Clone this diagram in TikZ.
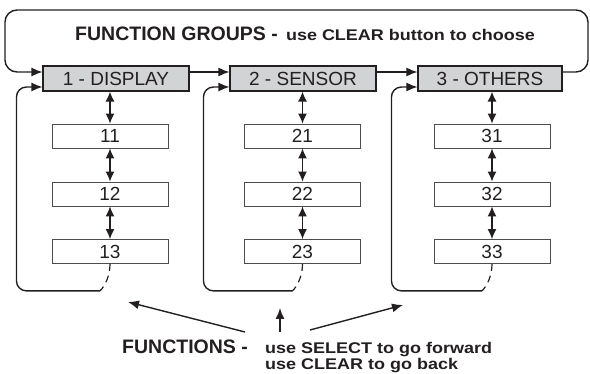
\documentclass[tikz,border=0pt]{standalone}
\usepackage{fontspec}
\setmainfont{Liberation Sans}
\usetikzlibrary{arrows.meta,calc}
\definecolor{ink}{RGB}{35,31,32}
\definecolor{boxgray}{RGB}{210,211,212}
\tikzset{
  grp/.style={draw=ink, line width=1.1pt, fill=boxgray, minimum width=146pt, minimum height=25pt, inner sep=0pt, text=ink, font=\fontsize{19}{19}\selectfont},
  fbox/.style={draw=ink!80, line width=0.8pt, minimum width=116pt, minimum height=24pt, inner sep=0pt, text=ink, font=\fontsize{19}{19}\selectfont},
  conn/.style={line width=1.4pt, draw=ink},
  tipend/.style={-{Latex[length=11pt,width=9pt]}},
  dbl/.style={{Latex[length=10pt,width=9pt]}-{Latex[length=10pt,width=9pt]}},
  dsh/.style={line width=1.2pt, draw=ink, dash pattern=on 7pt off 5pt},
  bigtxt/.style={anchor=base west, inner sep=0pt, text=ink, font=\bfseries\fontsize{19.5}{19.5}\selectfont},
  smalltxt/.style={inner sep=0pt, text=ink, xscale=1.16, font=\bfseries\fontsize{15.5}{15.5}\selectfont}
}
\begin{document}
\begin{tikzpicture}[x=1pt,y=-1pt]
\useasboundingbox (0,0) rectangle (590,374);

% group boxes
\node[grp] (g1) at (116,78.5) {1 - DISPLAY};
\node[grp] (g2) at (303,78.5) {2 - SENSOR};
\node[grp, minimum width=144pt] (g3) at (490,78.5) {3 - OTHERS};

% function boxes
\foreach \c/\x in {1/110,2/302.5,3/492}{
  \node[fbox] (f\c1) at (\x,136) {\c1};
  \node[fbox] (f\c2) at (\x,194) {\c2};
  \node[fbox] (f\c3) at (\x,251.5) {\c3};
}

% title
\node[bigtxt] (tg) at (75,41) {FUNCTION GROUPS -};
\node[smalltxt, anchor=base east] (tu) at (535,41) {use CLEAR button to choose};

% top loop
\coordinate (tr) at (588,10);
\coordinate (tl) at (5,10);
\draw[conn,tipend,rounded corners=12pt] ([yshift=6.5pt]g3.east) -| (tr) -- (tl) |- ([yshift=6.5pt]g1.west);
\draw[conn,tipend] ([yshift=6.5pt]g1.east) -- ([yshift=6.5pt]g2.west);
\draw[conn,tipend] ([yshift=6.5pt]g2.east) -- ([yshift=6.5pt]g3.west);

% vertical double arrows and side loops
\foreach \c in {1,2,3}{
  \draw[conn,dbl] (f\c1.north |- g\c.south) -- (f\c1.north);
  \draw[conn,dbl] (f\c1.south) -- (f\c2.north);
  \draw[conn,dbl] (f\c2.south) -- (f\c3.north);
  \coordinate (b\c) at ($(f\c3.south)+(-10,27)$);
  \coordinate (l\c) at ($(g\c.west)+(-26,8.5)$);
  \draw[dsh] (f\c3.south) .. controls +(0,12) and +(5,-5) .. (b\c);
  \draw[conn,tipend,rounded corners=10pt] (b\c) -| (l\c) -- ([yshift=-8.5pt]g\c.west);
}

% bottom text
\node[bigtxt] (fn) at (122,354) {FUNCTIONS -};
\node[smalltxt, anchor=base west] (fu1) at (265,354) {use SELECT to go forward};
\node[smalltxt, anchor=base west] (fu2) at (265,369.5) {use CLEAR to go back};

% pointer arrows
\coordinate (a1s) at (245,332); \coordinate (a1e) at (128,302);
\coordinate (a2s) at (280,332); \coordinate (a2e) at (280,308);
\coordinate (a3s) at (310,330); \coordinate (a3e) at (403,305);
\draw[conn,tipend] (a1s) -- (a1e);
\draw[conn,tipend] (a2s) -- (a2e);
\draw[conn,tipend] (a3s) -- (a3e);
\end{tikzpicture}
\end{document}
